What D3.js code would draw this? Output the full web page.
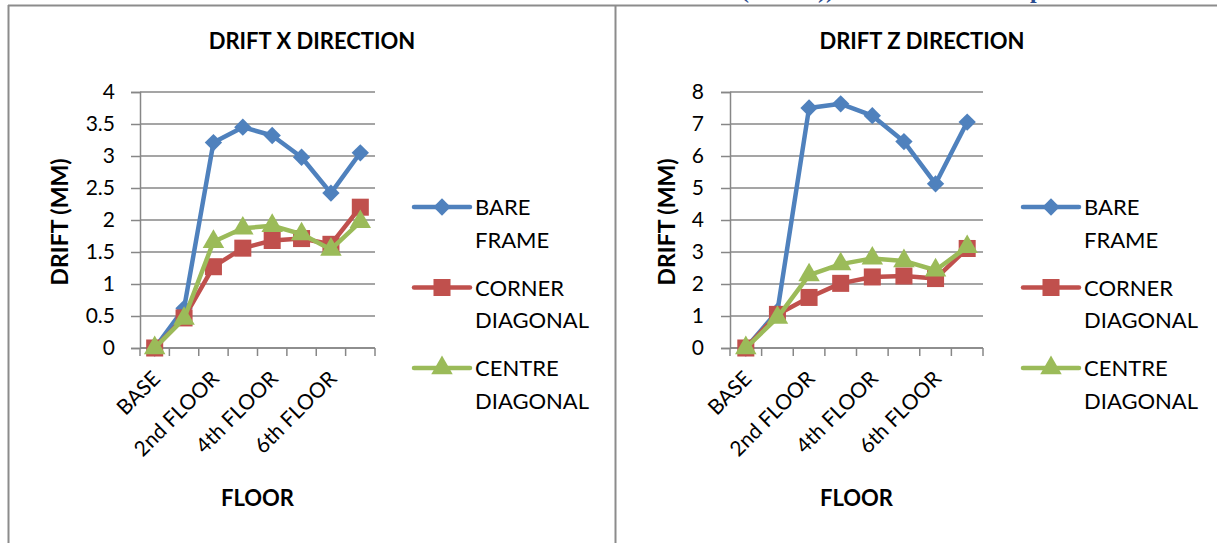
<!DOCTYPE html>
<html>
<head>
<meta charset="utf-8">
<script src="https://cdn.jsdelivr.net/npm/d3@7"></script>
<style>
	body { margin: 0; background: #ffffff; }
	svg { display: block; font-family: Lato, "Noto Sans", sans-serif; }
</style>
</head>
<body>
<svg id="chart" width="1217" height="543"></svg>
<script>
const floors = ['BASE', '1st FLOOR', '2nd FLOOR', '3rd FLOOR', '4th FLOOR', '5th FLOOR', '6th FLOOR', '7th FLOOR'];
const seriesNames = ['BARE FRAME', 'CORNER DIAGONAL', 'CENTRE DIAGONAL'];

const driftXBare = [0, 0.62, 3.21, 3.45, 3.32, 2.98, 2.42, 3.05];
const driftXCorner = [0, 0.47, 1.27, 1.56, 1.68, 1.71, 1.62, 2.2];
const driftXCentre = [0, 0.46, 1.66, 1.87, 1.91, 1.78, 1.54, 1.97];

const driftZBare = [0, 1.15, 7.5, 7.63, 7.26, 6.45, 5.13, 7.06];
const driftZCorner = [0, 1.05, 1.58, 2.02, 2.22, 2.25, 2.17, 3.11];
const driftZCentre = [0, 0.95, 2.28, 2.62, 2.8, 2.72, 2.43, 3.16];

const xTicksX = [0, 0.5, 1, 1.5, 2, 2.5, 3, 3.5, 4];
const xTicksZ = [0, 1, 2, 3, 4, 5, 6, 7, 8];

// excel style diamond: a square turned 45 degrees
const excelDiamond = {
	draw(context, size) {
		const r = Math.sqrt(size / 2);
		context.moveTo(0, -r);
		context.lineTo(r, 0);
		context.lineTo(0, r);
		context.lineTo(-r, 0);
		context.closePath();
	}
};

const colors = ['#4f81bd', '#c0504d', '#9bbb59'];
const markers = [excelDiamond, d3.symbolSquare, d3.symbolTriangle];
const markerSizes = [150, 290, 200];
const gridColor = '#878787';

const svg = d3.select('#chart');

// frame of the page around the two charts
const frame = svg.append('g').attr('stroke', '#8c8c8c').attr('stroke-width', 2).attr('fill', 'none');
frame.append('line').attr('x1', 8).attr('x2', 1217).attr('y1', 5.5).attr('y2', 5.5);
frame.append('line').attr('x1', 8.5).attr('x2', 8.5).attr('y1', 5).attr('y2', 543);
frame.append('line').attr('x1', 615.5).attr('x2', 615.5).attr('y1', 5).attr('y2', 543);

// cut-off heading of the document above
const heading = svg.append('g')
	.style('font-family', '"Liberation Serif", serif')
	.style('font-weight', 'bold')
	.style('font-size', '24px')
	.attr('fill', '#2a4d8f');
heading.append('text').attr('x', 741).attr('y', -2).text('(');
heading.append('text').attr('x', 818).attr('y', -2).text('))');
heading.append('text').attr('x', 1030).attr('y', -2).text('p');

function drawChart(cfg) {
	const g = svg.append('g');
	const x = d3.scaleBand().domain(floors).range([cfg.left, cfg.right]);
	const y = d3.scaleLinear().domain([0, d3.max(cfg.ticks)]).range([cfg.bottom, cfg.top]);

	// title
	g.append('text')
		.attr('x', cfg.titleX).attr('y', 49)
		.attr('text-anchor', 'middle')
		.style('font-weight', 'bold').style('font-size', '22px')
		.text(cfg.title);

	// grid lines
	g.append('g').selectAll('line').data(cfg.ticks).join('line')
		.attr('x1', cfg.left).attr('x2', cfg.right)
		.attr('y1', d => y(d)).attr('y2', d => y(d))
		.attr('stroke', gridColor).attr('stroke-width', 1.5);

	// y axis
	const yAxis = g.append('g')
		.attr('transform', `translate(${cfg.left},0)`)
		.call(d3.axisLeft(y).tickValues(cfg.ticks).tickSize(9).tickPadding(cfg.labelPad).tickFormat(d => String(d)));
	yAxis.select('.domain').attr('stroke', gridColor).attr('stroke-width', 1.5);
	yAxis.selectAll('.tick line').attr('stroke', gridColor).attr('stroke-width', 1.5);
	yAxis.selectAll('.tick text')
		.style('font-family', 'Lato, sans-serif').style('font-size', '21px').attr('fill', '#000');

	g.append('text')
		.attr('transform', `translate(${cfg.yTitleX},${(cfg.top + cfg.bottom) / 2 + 2}) rotate(-90)`)
		.attr('text-anchor', 'middle').attr('dy', '0.36em')
		.style('font-weight', 'bold').style('font-size', '23px')
		.text('DRIFT (MM)');

	// x axis
	const xAxis = g.append('g').attr('transform', `translate(0,${cfg.bottom})`);
	xAxis.append('line').attr('x1', cfg.left).attr('x2', cfg.right)
		.attr('stroke', gridColor).attr('stroke-width', 1.5);
	const edges = floors.map(f => x(f)).concat([cfg.right]);
	xAxis.selectAll('.xtick').data(edges).join('line')
		.attr('class', 'xtick')
		.attr('x1', d => d).attr('x2', d => d).attr('y1', 0).attr('y2', 8)
		.attr('stroke', gridColor).attr('stroke-width', 1.5);
	xAxis.selectAll('.xlabel').data(floors.filter((f, i) => i % 2 === 0)).join('text')
		.attr('class', 'xlabel')
		.attr('text-anchor', 'end')
		.attr('transform', d => `translate(${x(d) + x.bandwidth() / 2 + 7},32) rotate(-45)`)
		.style('font-size', '21px')
		.text(d => d);

	g.append('text')
		.attr('x', (cfg.left + cfg.right) / 2).attr('y', 506)
		.attr('text-anchor', 'middle')
		.style('font-weight', 'bold').style('font-size', '22px')
		.text('FLOOR');

	// series
	const line = d3.line()
		.x((d, i) => x(floors[i]) + x.bandwidth() / 2)
		.y(d => y(d));
	cfg.series.forEach((values, s) => {
		g.append('path')
			.attr('d', line(values))
			.attr('fill', 'none')
			.attr('stroke', colors[s]).attr('stroke-width', 4.5)
			.attr('stroke-linejoin', 'round');
		g.append('g').selectAll('path').data(values).join('path')
			.attr('transform', (d, i) => `translate(${x(floors[i]) + x.bandwidth() / 2},${y(d)})`)
			.attr('d', d3.symbol(markers[s], markerSizes[s]))
			.attr('fill', colors[s]);
	});

	// legend
	const legend = g.append('g');
	seriesNames.forEach((name, s) => {
		const ly = 207 + s * 80.5;
		legend.append('line')
			.attr('x1', cfg.legendX).attr('x2', cfg.legendX + 56)
			.attr('y1', ly).attr('y2', ly)
			.attr('stroke', colors[s]).attr('stroke-width', 4.5).attr('stroke-linecap', 'round');
		legend.append('path')
			.attr('transform', `translate(${cfg.legendX + 28},${ly})`)
			.attr('d', d3.symbol(markers[s], markerSizes[s]))
			.attr('fill', colors[s]);
		const words = name.split(' ');
		const t = legend.append('text')
			.attr('x', cfg.legendX + 61).attr('y', ly + 8)
			.style('font-size', '22px');
		words.forEach((w, i) => {
			t.append('tspan').attr('x', cfg.legendX + 61).attr('dy', i === 0 ? 0 : 32.5).text(w);
		});
	});
}

drawChart({
	title: 'DRIFT X DIRECTION', titleX: 312,
	left: 140, right: 375, top: 92, bottom: 348,
	ticks: xTicksX, labelPad: 16, yTitleX: 60,
	series: [driftXBare, driftXCorner, driftXCentre],
	legendX: 414
});

drawChart({
	title: 'DRIFT Z DIRECTION', titleX: 922,
	left: 730, right: 983, top: 92, bottom: 348,
	ticks: xTicksZ, labelPad: 17, yTitleX: 667,
	series: [driftZBare, driftZCorner, driftZCentre],
	legendX: 1023
});
</script>
</body>
</html>
